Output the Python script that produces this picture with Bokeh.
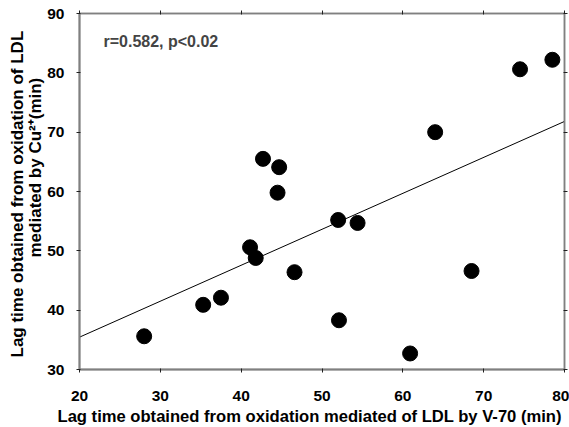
from bokeh.plotting import figure
from bokeh.models import Range1d, FixedTicker, LinearAxis, Label, Title, ColumnDataSource
from bokeh.embed import file_html
from bokeh.resources import INLINE

# ---- data ----
v70_lag = [28.0, 35.3, 37.5, 41.1, 41.8, 46.6, 52.0, 54.4, 52.1, 60.9, 68.5,
           74.5, 78.5, 64.0, 42.7, 44.7, 44.5]
cu_lag = [35.6, 40.9, 42.1, 50.6, 48.8, 46.4, 55.2, 54.7, 38.3, 32.7, 46.6,
          80.6, 82.2, 70.0, 65.5, 64.1, 59.8]
fit_intercept_at_20 = 35.45
fit_slope = 0.606
x_ticks = [20, 30, 40, 50, 60, 70, 80]
y_ticks = [30, 40, 50, 60, 70, 80, 90]
stat_text = "r=0.582, p<0.02"
x_label = "Lag time obtained from oxidation mediated of LDL by V-70 (min)"
y_label_1 = "Lag time obtained from oxidation of LDL"
y_label_2 = "mediated  by Cu\u00b2\u207a(min)"

FONT = "Liberation Sans"
AX = "#808080"

p = figure(width=569, height=427, output_backend="svg", toolbar_location=None,
           x_range=Range1d(20, 80), y_range=Range1d(30, 90),
           min_border_left=79, min_border_right=5, min_border_top=13,
           min_border_bottom=58, x_axis_location=None, y_axis_location=None)
p.grid.visible = False
p.outline_line_color = AX
p.outline_line_width = 1.5
p.background_fill_color = "white"
p.border_fill_color = "white"

bottom = LinearAxis(ticker=FixedTicker(ticks=x_ticks))
left = LinearAxis(ticker=FixedTicker(ticks=y_ticks))
top = LinearAxis(ticker=FixedTicker(ticks=x_ticks),
                 major_label_overrides={t: "" for t in x_ticks})
right = LinearAxis(ticker=FixedTicker(ticks=y_ticks),
                   major_label_overrides={t: "" for t in y_ticks})
for ax in (bottom, left, top, right):
    ax.axis_line_color = AX
    ax.axis_line_width = 2
    ax.major_tick_line_color = "#202020"
    ax.major_tick_line_width = 1
    ax.major_tick_out = 3
    ax.major_tick_in = 1
    ax.minor_tick_line_color = None
    ax.major_label_text_font = FONT
    ax.major_label_text_font_style = "bold"
    ax.major_label_text_font_size = "15.5px"
    ax.major_label_text_color = "black"
for ax in (top, right):
    ax.major_label_standoff = 0
    ax.axis_line_width = 1.5
bottom.major_label_standoff = 18
left.major_label_standoff = 12
p.add_layout(bottom, "below")
p.add_layout(left, "left")
p.add_layout(top, "above")
p.add_layout(right, "right")

def side_title(text, offset, standoff, size="17px"):
    return Title(text=text, align="left", offset=offset, standoff=standoff,
                 text_font=FONT, text_font_style="bold", text_font_size=size,
                 text_color="black")

p.add_layout(side_title(x_label, -22, 3, "16.6px"), "below")
p.add_layout(side_title(y_label_2, 112, -1), "left")
p.add_layout(side_title(y_label_1, 12, -4), "left")

# regression line
line_x = [x_ticks[0], x_ticks[-1]]
line_y = [fit_intercept_at_20 + fit_slope * (xx - x_ticks[0]) for xx in line_x]
p.line(line_x, line_y, line_color="black", line_width=1)

src = ColumnDataSource(dict(x=v70_lag, y=cu_lag))
p.scatter("x", "y", source=src, size=15, fill_color="black", line_color="black")

p.add_layout(Label(x=22.97, y=85.25, text=stat_text, text_font=FONT,
                   text_font_style="bold", text_font_size="16px",
                   text_baseline="middle", text_align="left"))

open("out.html", "w").write(file_html(p, INLINE))
